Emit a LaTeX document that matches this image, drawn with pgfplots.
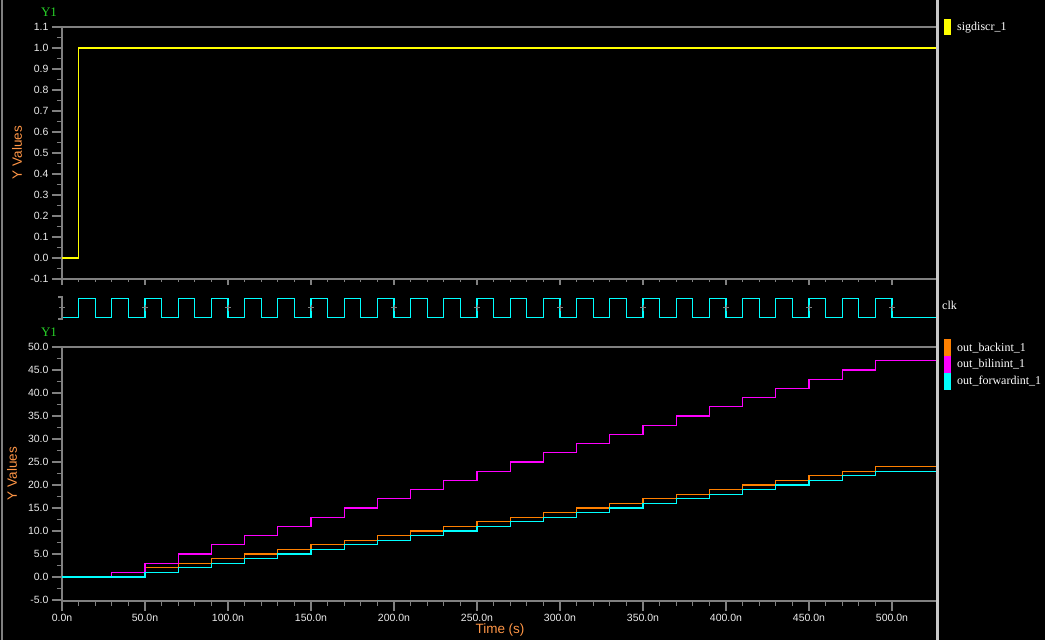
\documentclass[border=0pt]{standalone}
\usepackage{pgfplots}
\pgfplotsset{compat=1.18}
\usepackage{fontspec}
\setmainfont{Liberation Serif}
\setsansfont{Liberation Sans}
\definecolor{axgray}{RGB}{128,128,128}
\definecolor{sepgray}{RGB}{200,200,200}
\definecolor{yel}{RGB}{255,255,0}
\definecolor{cya}{RGB}{0,255,255}
\definecolor{mag}{RGB}{255,0,255}
\definecolor{ora}{RGB}{255,128,0}
\definecolor{lblora}{RGB}{255,150,70}
\definecolor{ygreen}{RGB}{40,210,40}
\definecolor{tickwhite}{RGB}{235,235,235}
\pgfplotsset{
  panel/.style={
    scale only axis, anchor=south west,
    xmin=0, xmax=526.506,
    axis x line*=bottom, axis y line*=left,
    axis line style={axgray, line width=1.1pt, -},
    tick style={axgray, line width=1.1pt},
    tick align=outside,
    major tick length=10pt, minor tick length=5pt,
    xtick={0,50,...,500},
    minor x tick num=4,
    minor y tick num=1,
    yticklabel style={font=\sffamily\fontsize{10.5}{12}\selectfont, text=tickwhite, anchor=east, xshift=0pt},
    xticklabel style={font=\sffamily\fontsize{10.5}{12}\selectfont, text=tickwhite},
    clip=true,
  },
}
\begin{document}
\begin{tikzpicture}
\useasboundingbox (0pt,0pt) rectangle (1045pt,640pt);
\fill[black] (0pt,0pt) rectangle (1045pt,640pt);
\draw[axgray, line width=1.5pt] (2pt,0pt) -- (2pt,640pt);

% ---------- top panel ----------
\begin{axis}[panel, at={(62pt,361pt)}, width=874pt, height=252pt,
  ymin=-0.1, ymax=1.1,
  ytick={-0.1,0,0.1,0.2,0.3,0.4,0.5,0.6,0.7,0.8,0.9,1.0,1.1},
  yticklabels={-0.1,0.0,0.1,0.2,0.3,0.4,0.5,0.6,0.7,0.8,0.9,1.0,1.1},
  xticklabels={},
  xtick style={/pgfplots/major tick length=6pt, /pgfplots/minor tick length=3pt},
]
\addplot[yel, line width=1.3pt, const plot] coordinates {(0,0) (10,1) (526.5,1)};
\draw[axgray, line width=1.1pt] (rel axis cs:0,1) -- (rel axis cs:1,1);
\end{axis}

% ---------- clk panel ----------
\begin{axis}[scale only axis, anchor=south west, at={(62pt,320.8pt)}, width=874pt, height=22.8pt,
  xmin=0, xmax=526.506, ymin=-0.1, ymax=1.1, axis lines=none, clip=false]
\addplot[cya, line width=1.3pt, const plot] coordinates {
(0,0) (10,1) (20,0) (30,1) (40,0) (50,1) (60,0) (70,1) (80,0) (90,1) (100,0)
(110,1) (120,0) (130,1) (140,0) (150,1) (160,0) (170,1) (180,0) (190,1) (200,0)
(210,1) (220,0) (230,1) (240,0) (250,1) (260,0) (270,1) (280,0) (290,1) (300,0)
(310,1) (320,0) (330,1) (340,0) (350,1) (360,0) (370,1) (380,0) (390,1) (400,0)
(410,1) (420,0) (430,1) (440,0) (450,1) (460,0) (470,1) (480,0) (490,1) (500,0)
(526.5,0)};
\addplot[only marks, mark=+, mark size=3pt, axgray, line width=1pt] coordinates {
(0,0.5) (50,0.5) (100,0.5) (150,0.5) (200,0.5) (250,0.5) (300,0.5) (350,0.5) (400,0.5) (450,0.5) (500,0.5)};
\end{axis}

% ---------- bottom panel ----------
\begin{axis}[panel, at={(62pt,39pt)}, width=874pt, height=254pt,
  ymin=-5.217, ymax=50,
  ytick={-5,0,5,10,15,20,25,30,35,40,45,50},
  yticklabels={-5.0,0.0,5.0,10.0,15.0,20.0,25.0,30.0,35.0,40.0,45.0,50.0},
  xticklabels={0.0n,50.0n,100.0n,150.0n,200.0n,250.0n,300.0n,350.0n,400.0n,450.0n,500.0n},
]
\addplot[ora, line width=1.3pt, const plot] coordinates {
(0,0) (50,2) (70,3) (90,4) (110,5) (130,6) (150,7) (170,8) (190,9) (210,10) (230,11)
(250,12) (270,13) (290,14) (310,15) (330,16) (350,17) (370,18) (390,19) (410,20)
(430,21) (450,22) (470,23) (490,24) (526.5,24)};
\addplot[mag, line width=1.3pt, const plot] coordinates {
(0,0) (30,1) (50,3) (70,5) (90,7) (110,9) (130,11) (150,13) (170,15) (190,17) (210,19)
(230,21) (250,23) (270,25) (290,27) (310,29) (330,31) (350,33) (370,35) (390,37)
(410,39) (430,41) (450,43) (470,45) (490,47) (526.5,47)};
\addplot[cya, line width=1.3pt, const plot] coordinates {
(0,0) (50,1) (70,2) (90,3) (110,4) (130,5) (150,6) (170,7) (190,8) (210,9) (230,10)
(250,11) (270,12) (290,13) (310,14) (330,15) (350,16) (370,17) (390,18) (410,19)
(430,20) (450,21) (470,22) (490,23) (526.5,23)};
\draw[axgray, line width=1.1pt] (rel axis cs:0,1) -- (rel axis cs:1,1);
\end{axis}

\begin{scope}[x=1pt,y=1pt]
\draw[axgray, line width=1.1pt] (58,343) -- (62,343) -- (62,321) -- (58,321);
\draw[sepgray, line width=3pt] (937.5,0) -- (937.5,640);

\node[text=ygreen, font=\fontsize{13}{15}\selectfont] at (49,628) {Y1};
\node[text=ygreen, font=\fontsize{13}{15}\selectfont] at (49,308) {Y1};
\node[text=lblora, font=\sffamily\fontsize{13.5}{15}\selectfont, rotate=90] at (17,487.5) {Y Values};
\node[text=lblora, font=\sffamily\fontsize{13.5}{15}\selectfont, rotate=90] at (12,166.5) {Y Values};
\node[text=lblora, font=\sffamily\fontsize{13.5}{15}\selectfont] at (500,10) {Time (s)};

\fill[yel] (944,605) rectangle (950.7,621);
\node[anchor=west, text=white, font=\fontsize{12}{14}\selectfont, inner sep=0pt] at (957,612) {sigdiscr\_1};
\node[anchor=west, text=white, font=\fontsize{12}{14}\selectfont, inner sep=0pt] at (942,335) {clk};
\fill[ora] (944,284) rectangle (950.7,301);
\fill[mag] (944,267.3) rectangle (950.7,284);
\fill[cya] (944,250) rectangle (950.7,267.3);
\node[anchor=west, text=white, font=\fontsize{12}{14}\selectfont, inner sep=0pt] at (957,292) {out\_backint\_1};
\node[anchor=west, text=white, font=\fontsize{12}{14}\selectfont, inner sep=0pt] at (957,276) {out\_bilinint\_1};
\node[anchor=west, text=white, font=\fontsize{12}{14}\selectfont, inner sep=0pt] at (957,259) {out\_forwardint\_1};
\end{scope}
\end{tikzpicture}
\end{document}
